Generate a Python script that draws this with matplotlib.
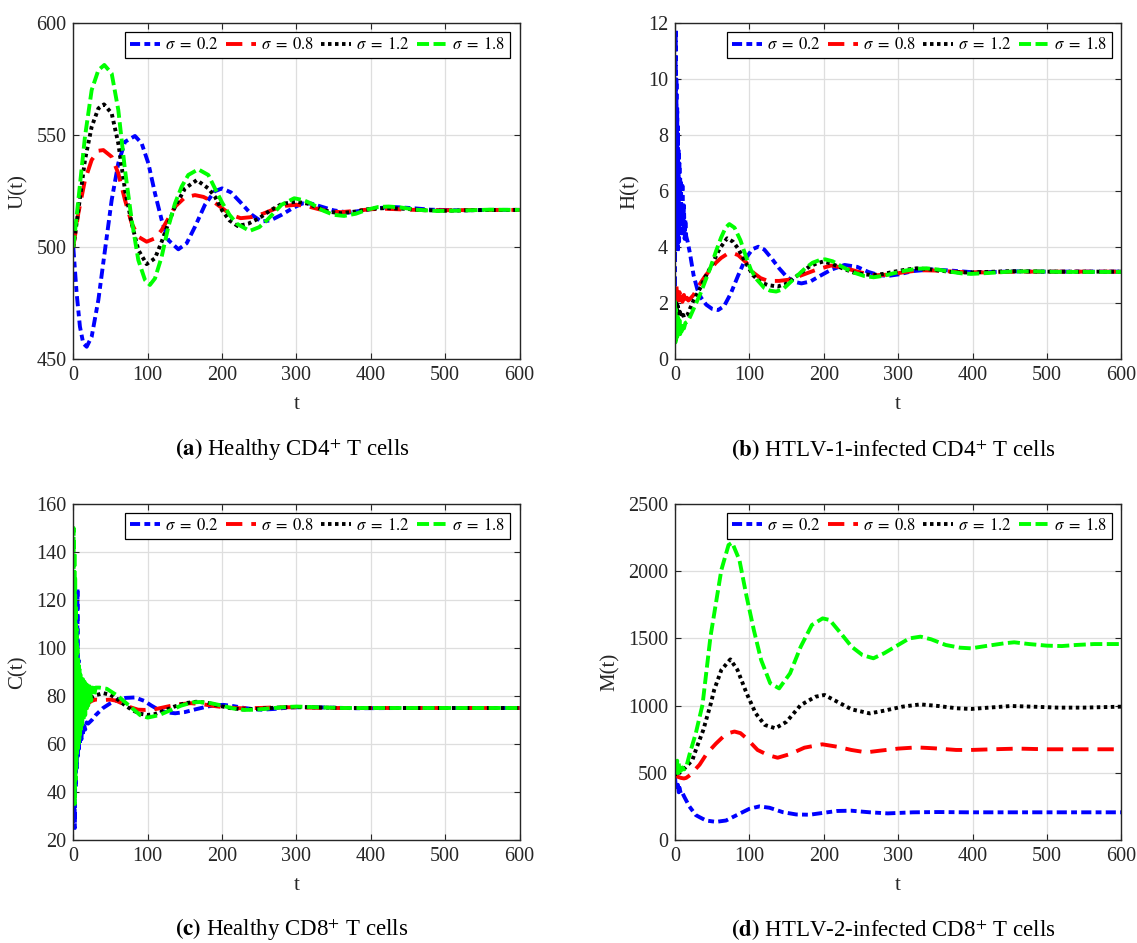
import matplotlib
matplotlib.use("Agg")
import matplotlib.pyplot as plt

plt.rcParams['font.family'] = ['Liberation Serif', 'DejaVu Serif']
plt.rcParams['mathtext.fontset'] = 'stix'

# ---------------- data ----------------
sigma_labels = [r'$\sigma\;=\;0.2$', r'$\sigma\;=\;0.8$', r'$\sigma\;=\;1.2$', r'$\sigma\;=\;1.8$']

# Panel (a): U(t)
U_t02 = [0, 4.5, 8.9, 13.4, 18, 24.7, 33.7, 42.6, 51.6, 60.5, 69.5, 82.9, 91.9, 100.9, 109.8, 118.8, 127.8, 141.2,
         152.4, 163.6, 177, 190, 200, 212, 225, 240, 253, 265, 280, 295, 308, 320, 335, 350, 370, 390, 410, 430,
         455, 480, 520, 560, 600]
U_v02 = [500, 479.4, 464.6, 457.1, 455.6, 460.1, 476.5, 498.8, 521.1, 537.5, 547.1, 549.7, 546.4, 537.5, 524.1,
         512.2, 503.2, 499.1, 501.8, 509.2, 519, 525, 526.3, 524.5, 520, 514.5, 511.5, 512, 514.5, 517.5, 519.6,
         519.5, 518, 516.5, 515.5, 516.5, 517.5, 518, 517.5, 516.8, 516.5, 516.7, 516.7]
U_t08 = [0, 6.8, 15.7, 24.7, 33.7, 40.4, 51.6, 60.5, 69.5, 78.5, 87.4, 98.6, 109.8, 118.8, 127.8, 136.7, 150.2,
         163.6, 175, 190, 200, 212, 225, 240, 255, 270, 285, 300, 315, 330, 345, 360, 380, 400, 420, 450, 480,
         520, 600]
U_v08 = [500, 515.2, 530, 539, 543.1, 543.4, 540.4, 533, 521.1, 510.7, 504.7, 502.5, 504, 507.7, 512.9, 518.1,
         522.3, 523.3, 522.5, 520, 517.5, 514.5, 513, 513.5, 515, 517, 518.5, 519, 518.3, 517, 516, 515.7, 516.3,
         517, 517.2, 516.8, 516.5, 516.6, 516.7]
U_t12 = [0, 6.8, 15.7, 24.7, 33.7, 41.3, 51.6, 60.5, 69.5, 78.5, 87.4, 98.6, 109.8, 118.8, 127.8, 136.7, 150.2,
         166, 181.5, 190.4, 200, 210, 221, 235, 250, 265, 280, 299, 315, 330, 345, 360, 380, 400, 420, 445, 470,
         500, 540, 600]
U_v12 = [500, 516.6, 539, 553.8, 562, 563.8, 559.8, 546.4, 525.6, 510.7, 498.8, 492.5, 495.1, 502.5, 510.7,
         518.1, 526.3, 530, 526.3, 522.6, 516.5, 512, 509.5, 510.5, 513, 516.5, 519.3, 520.4, 519.5, 517.5, 515.8,
         515.2, 516, 517.2, 517.5, 517.2, 516.6, 516.3, 516.6, 516.7]
U_t18 = [0, 6.8, 15.7, 24.7, 33.7, 41.7, 51.6, 60.5, 69.5, 78.5, 87.4, 96.4, 103, 109.8, 118.8, 127.8, 136.7,
         145.7, 154.6, 168, 181.5, 190.4, 200, 210, 220, 237, 250, 260, 270, 280, 297, 310, 320, 335, 350, 364,
         380, 395, 410, 424, 440, 460, 489, 520, 560, 600]
U_v18 = [500, 521.1, 549.4, 570.2, 579.1, 581.4, 577.6, 561.3, 534.5, 512.2, 494.3, 485.4, 483.2, 486.1, 495.8,
         509.2, 519.6, 527.1, 532.3, 534.8, 532.3, 526.3, 520, 514.5, 510.5, 507.3, 509, 512, 515.5, 519, 521.9,
         521, 519.5, 516.5, 514.5, 514, 515, 516.8, 518, 518.2, 517.8, 516.8, 516.2, 516.4, 516.8, 516.7]

# Panel (b): H(t)
H_t02 = [0, 0.5, 1, 1.5, 2, 2.5, 3, 3.5, 4, 4.5, 5, 5.5, 6, 6.5, 7, 7.5, 8, 9, 10, 11, 12, 13, 14, 15, 17, 20,
         25, 30, 35, 42, 50, 58, 66, 75, 85, 95, 104, 112, 120, 130, 140, 150, 160, 170, 182, 195, 210, 228, 245,
         260, 275, 287, 300, 320, 345, 370, 400, 430, 460, 500, 600]
H_v02 = [2.6, 8, 11.8, 5, 10, 4, 9, 3.8, 8.3, 4.5, 7.5, 4.2, 7, 4.8, 6.5, 4.5, 6.3, 4.5, 6.2, 4.5, 5.5, 4.3, 5,
         4.4, 4.2, 3.8, 3.0, 2.5, 2.2, 1.95, 1.8, 1.76, 1.9, 2.35, 3.0, 3.6, 3.93, 4.02, 3.92, 3.6, 3.25, 2.95,
         2.77, 2.71, 2.78, 2.98, 3.2, 3.37, 3.3, 3.12, 3.0, 2.98, 3.03, 3.15, 3.21, 3.17, 3.11, 3.12, 3.14, 3.13,
         3.13]
H_t08 = [0, 1, 2, 3, 4, 5, 6, 7, 8, 10, 12, 14, 16, 18, 20, 25, 30, 35, 40, 47, 55, 62, 70, 78, 85, 96, 105, 115,
         125, 140, 155, 170, 190, 210, 230, 250, 270, 290, 310, 330, 350, 380, 420, 460, 600]
H_v08 = [2.5, 2.1, 2.6, 2.2, 2.5, 2.1, 2.4, 2.2, 2.35, 2.05, 2.3, 2.0, 2.2, 2.1, 2.15, 2.3, 2.55, 2.75, 2.95,
         3.19, 3.45, 3.62, 3.76, 3.79, 3.72, 3.45, 3.1, 2.9, 2.8, 2.8, 2.85, 3.0, 3.2, 3.35, 3.25, 3.1, 3.0, 3.03,
         3.12, 3.18, 3.17, 3.12, 3.1, 3.13, 3.13]
H_t12 = [0, 1, 2, 3, 4, 5, 6, 8, 10, 12, 14, 17, 20, 25, 30, 35, 40, 50, 60, 70, 78, 85, 95, 105, 115, 125, 138,
         150, 160, 170, 180, 190, 199, 210, 225, 240, 255, 267, 280, 295, 310, 325, 340, 355, 375, 393, 420, 450,
         500, 600]
H_v12 = [2.0, 1.7, 2.0, 1.6, 1.9, 1.55, 1.8, 1.5, 1.7, 1.5, 1.55, 1.6, 1.8, 2.1, 2.35, 2.6, 2.9, 3.4, 3.95, 4.32,
         4.2, 3.95, 3.45, 3.0, 2.75, 2.65, 2.6, 2.7, 2.9, 3.1, 3.3, 3.42, 3.49, 3.42, 3.25, 3.1, 3.03, 3.01, 3.05,
         3.13, 3.2, 3.25, 3.22, 3.17, 3.11, 3.1, 3.12, 3.15, 3.13, 3.13]
H_t18 = [0, 0.5, 1, 1.5, 2, 3, 4, 5, 6, 7, 8, 9, 10, 12, 14, 17, 20, 25, 30, 35, 40, 48, 55, 62, 68, 73, 80, 88,
         95, 102, 110, 120, 128, 136, 145, 155, 165, 175, 185, 195, 202, 212, 225, 240, 255, 267, 280, 295, 310,
         325, 338, 352, 370, 385, 398, 420, 450, 480, 520, 600]
H_v18 = [2.1, 0.6, 1.8, 0.7, 1.6, 0.8, 1.5, 0.9, 1.4, 0.9, 1.3, 1.0, 1.3, 1.1, 1.3, 1.35, 1.5, 1.8, 2.1, 2.4,
         2.75, 3.3, 3.85, 4.35, 4.7, 4.83, 4.7, 4.25, 3.7, 3.2, 2.85, 2.55, 2.45, 2.42, 2.5, 2.75, 3.0, 3.25,
         3.45, 3.55, 3.57, 3.5, 3.3, 3.1, 2.97, 2.93, 2.98, 3.08, 3.17, 3.23, 3.25, 3.21, 3.13, 3.07, 3.05, 3.08,
         3.13, 3.14, 3.12, 3.12]

# Panel (c): C(t)
C_t02 = [0, 0.7, 1.4, 2.1, 2.8, 3.5, 4.2, 4.9, 5.6, 6.3, 7, 7.7, 8.4, 9.1, 10, 11, 12, 13, 14, 16, 18, 20, 25,
         30, 35, 40, 50, 60, 70, 83, 95, 105, 115, 125, 137, 150, 165, 180, 192, 202, 215, 230, 245, 253, 270,
         290, 310, 340, 380, 450, 600]
C_v02 = [50, 28, 45, 25, 60, 42, 90, 50, 125, 55, 95, 58, 80, 60, 72, 62, 70, 64, 69, 66, 69, 68.5, 70, 72, 73.5,
         75, 77, 78.5, 79.2, 79.4, 78, 76, 74.2, 73.2, 72.8, 73.3, 74.5, 75.6, 76.2, 76.3, 75.8, 75, 74.4, 74.3,
         74.6, 75.2, 75.4, 75.2, 74.9, 75, 75]
C_t08 = [0, 1, 2, 3, 4, 5, 6, 7, 8, 9, 10, 12, 14, 16, 18, 20, 25, 30, 40, 50, 58, 65, 75, 87, 96, 110, 125, 140,
         158, 175, 190, 205, 225, 250, 275, 300, 340, 600]
C_v08 = [65, 85, 62, 88, 65, 84, 68, 82, 70, 80, 71, 78, 73, 77, 75, 77, 78, 78.5, 78.3, 78.5, 78, 77, 75.5, 74.3,
         74.2, 74.5, 75.5, 76.5, 77, 76.5, 75.8, 75.2, 74.9, 75, 75.3, 75.3, 75, 75]
C_t12 = [0, 1, 2, 3, 4, 5, 6, 7, 8, 9, 10, 12, 14, 16, 18, 20, 25, 30, 40, 50, 60, 70, 80, 90, 100, 110, 120, 135,
         150, 165, 180, 195, 210, 228, 245, 265, 290, 320, 360, 600]
C_v12 = [60, 95, 55, 92, 60, 90, 65, 87, 68, 85, 70, 82, 74, 80, 76, 79, 79.5, 80.3, 81.2, 80.5, 78.5, 76, 74,
         72.6, 72.1, 72.5, 73.6, 75.5, 77, 77.6, 77.2, 76, 75, 74.4, 74.6, 75, 75.4, 75.3, 75, 75]
C_t18 = [0, 0.5, 1, 1.5, 2, 2.5, 3, 3.5, 4, 4.5, 5, 5.5, 6, 6.5, 7, 7.5, 8, 8.5, 9, 9.5, 10, 11, 12, 13, 14, 15,
         16, 17, 18, 19, 20, 22, 24, 26, 28, 30, 35, 45, 60, 75, 90, 100, 115, 130, 145, 160, 170, 185, 200, 215,
         230, 245, 260, 280, 300, 330, 360, 600]
C_v18 = [100, 150, 50, 140, 35, 130, 45, 118, 50, 108, 55, 100, 58, 96, 60, 93, 62, 91, 64, 89, 66, 88, 68, 87,
         70, 86, 72, 85, 74, 84.5, 76, 84, 78, 83.5, 80, 83.5, 83.5, 83, 80, 76, 72, 71, 72, 74, 76, 77.3, 77.5,
         77, 76, 74.8, 74.2, 74.3, 74.7, 75.3, 75.6, 75.3, 75, 75]

# Panel (d): M(t)
M_t02 = [0, 1, 2, 3, 4, 5, 6, 8, 10, 12.6, 19.3, 28, 33, 41.7, 55, 68.6, 86.5, 100, 113.4, 127, 145, 163, 181,
         194, 218, 237, 262, 286, 320, 354, 393, 450, 600]
M_v02 = [470, 400, 430, 370, 410, 355, 390, 340, 350, 320, 250, 185, 170, 145, 135, 145, 195, 232, 250, 240, 207,
         190, 188, 198, 216, 218, 206, 198, 206, 208, 206, 206, 206]
M_t08 = [0, 4, 8, 12, 15, 20, 28, 33, 43, 55, 65, 72, 80, 88, 96, 111, 125, 138, 155, 174, 198, 218, 237, 257,
         276, 300, 325, 349, 378, 398, 427, 461, 500, 600]
M_v08 = [480, 470, 462, 458, 462, 482, 530, 560, 645, 717, 770, 795, 807, 795, 757, 670, 632, 612, 640, 687, 712,
         694, 670, 652, 665, 680, 689, 682, 670, 670, 675, 680, 675, 675]
M_t12 = [0, 2, 4, 6, 8.8, 14.8, 23.4, 28, 38, 48.4, 52.6, 62.3, 74.4, 84, 96.3, 108.5, 120.7, 135, 150, 169,
         188.8, 201, 218, 237.5, 261.8, 281, 305.6, 330, 354, 378.6, 398, 422, 451.6, 480.8, 514.8, 548.9, 600]
M_v12 = [480, 520, 475, 505, 508, 545, 595, 670, 818, 1020, 1116, 1265, 1344, 1265, 1091, 942, 856, 831, 880,
         1004, 1066, 1079, 1029, 972, 942, 962, 992, 1009, 997, 980, 975, 985, 997, 992, 985, 985, 992]
M_t18 = [0, 1, 2, 3, 4, 5, 6, 7, 8, 10, 12, 15, 19.3, 28, 37, 47.7, 62.3, 72, 76.9, 86.6, 96.3, 106, 115.8, 128,
         140, 154.7, 169, 184, 198.5, 208, 222.9, 237.5, 252, 266.7, 281, 296, 315, 330, 344.5, 364, 383, 398,
         417.5, 442, 456, 476, 500, 520, 539, 563.5, 600]
M_v18 = [500, 600, 480, 590, 500, 570, 510, 560, 515, 540, 525, 540, 632, 795, 1007, 1513, 2009, 2195, 2212, 2083,
         1810, 1562, 1339, 1166, 1128, 1240, 1438, 1600, 1649, 1637, 1538, 1438, 1376, 1352, 1389, 1438, 1500,
         1513, 1493, 1451, 1431, 1426, 1443, 1463, 1471, 1458, 1446, 1443, 1451, 1458, 1458]

x_ticks = [0, 100, 200, 300, 400, 500, 600]
U_ticks = [450, 500, 550, 600]
H_ticks = [0, 2, 4, 6, 8, 10, 12]
C_ticks = [20, 40, 60, 80, 100, 120, 140, 160]
M_ticks = [0, 500, 1000, 1500, 2000, 2500]

captions = [r'$\mathbf{(a)}$ Healthy CD4$^{+}$ T cells',
            r'$\mathbf{(b)}$ HTLV-1-infected CD4$^{+}$ T cells',
            r'$\mathbf{(c)}$ Healthy CD8$^{+}$ T cells',
            r'$\mathbf{(d)}$ HTLV-2-infected CD8$^{+}$ T cells']

# ---------------- styles ----------------
colors = ['#0000ff', '#ff0000', '#000000', '#00ff00']
styles = [(0, (2.6, 1.1, 1.5, 1.1)), (0, (4.2, 2.3)), (0, (0.9, 0.9)), (0, (3.1, 1.15))]
LW = 2.8

W, H = 1137, 943
fig = plt.figure(figsize=(W / 100, H / 100), dpi=100)

axw, axh = 446.3 / W, 336 / H
lefts = [73.3 / W, 675 / W]
bottoms = [(H - 359.3) / H, (H - 840) / H]

panels = [
    ([(U_t02, U_v02), (U_t08, U_v08), (U_t12, U_v12), (U_t18, U_v18)], (450, 600), U_ticks, 'U(t)'),
    ([(H_t02, H_v02), (H_t08, H_v08), (H_t12, H_v12), (H_t18, H_v18)], (0, 12), H_ticks, 'H(t)'),
    ([(C_t02, C_v02), (C_t08, C_v08), (C_t12, C_v12), (C_t18, C_v18)], (20, 160), C_ticks, 'C(t)'),
    ([(M_t02, M_v02), (M_t08, M_v08), (M_t12, M_v12), (M_t18, M_v18)], (0, 2500), M_ticks, 'M(t)'),
]
positions = [(lefts[0], bottoms[0]), (lefts[1], bottoms[0]), (lefts[0], bottoms[1]), (lefts[1], bottoms[1])]
cap_pos = [(292 / W, 1 - 450 / H), (893 / W, 1 - 450 / H), (292 / W, 1 - 930 / H), (893 / W, 1 - 930 / H)]

axc = '#262626'
for k, (series, ylim, yticks, ylab) in enumerate(panels):
    ax = fig.add_axes([positions[k][0], positions[k][1], axw, axh])
    for i, (tt, vv) in enumerate(series):
        ax.plot(tt, vv, color=colors[i], lw=LW, linestyle=styles[i], dash_capstyle='butt',
                solid_capstyle='butt', label=sigma_labels[i])
    ax.set_xlim(0, 600)
    ax.set_ylim(*ylim)
    ax.set_xticks(x_ticks)
    ax.set_yticks(yticks)
    ax.grid(True, color='#dedede', lw=0.9)
    ax.set_axisbelow(True)
    for sp in ax.spines.values():
        sp.set_color(axc)
        sp.set_linewidth(1.0)
    ax.tick_params(direction='in', length=4, width=0.8, colors=axc, labelsize=14.5,
                   top=True, right=True, pad=5)
    ax.set_xlabel('t', fontsize=15, color=axc, labelpad=7)
    ax.set_ylabel(ylab, fontsize=15, color=axc, labelpad=6)
    leg = ax.legend(loc='upper right', ncol=4, fontsize=12, frameon=True, fancybox=False,
                    framealpha=1, edgecolor='black', borderpad=0.3, handlelength=1.8,
                    handletextpad=0.3, columnspacing=0.45, borderaxespad=0.55)
    leg.get_frame().set_linewidth(0.9)
    fig.text(cap_pos[k][0], cap_pos[k][1], captions[k], ha='center', va='center', fontsize=16.5)

fig.savefig('out.png', dpi=100)
